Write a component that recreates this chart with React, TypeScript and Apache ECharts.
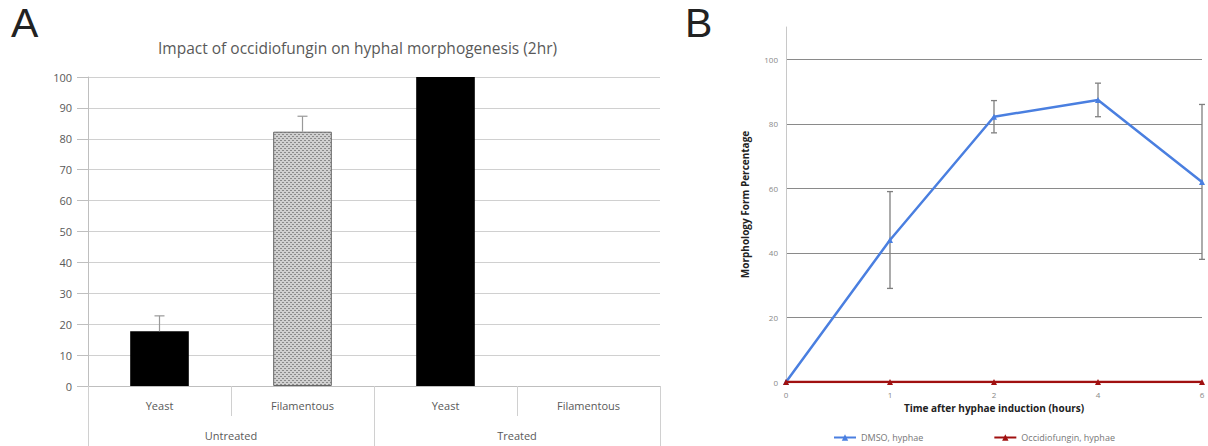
import React, { useEffect, useRef } from "react";
import * as echarts from "echarts";

const barCategories = ["Yeast", "Filamentous", "Yeast", "Filamentous"];
const groupLabels = ["Untreated", "Treated"];
const barValues = [17.7, 82.3, 100, 0];
const barUpperErrors = [5, 5, 0, 0];
const barYTicks = { min: 0, max: 100, interval: 10 };

const timeLabels = ["0", "1", "2", "4", "6"];
const dmsoValues = [0, 44, 82.2, 87.4, 62];
const dmsoErrors = [0, 15, 5, 5.2, 24];
const occValues = [0, 0, 0, 0, 0];

const FONT = "'Open Sans', 'Liberation Sans', sans-serif";

function makePattern(): HTMLCanvasElement {
  const c = document.createElement("canvas");
  c.width = 4;
  c.height = 4;
  const ctx = c.getContext("2d")!;
  ctx.fillStyle = "#d0d0d0";
  ctx.fillRect(0, 0, 4, 4);
  ctx.fillStyle = "#8a8a8a";
  ctx.fillRect(0, 0, 2, 1);
  ctx.fillRect(2, 2, 2, 1);
  return c;
}

export default function App() {
  const ref = useRef<HTMLDivElement>(null);
  useEffect(() => {
    const chart = echarts.init(ref.current!, null, { renderer: "svg" });
    const pattern = makePattern();
    const option: any = {
      animation: false,
      textStyle: { fontFamily: FONT },
      graphic: [
        { type: "text", left: 11, top: 2, style: { text: "A", fontSize: 41, fill: "#222", fontFamily: "'Liberation Sans', sans-serif" } },
        { type: "text", left: 685, top: 2, style: { text: "B", fontSize: 41, fill: "#222", fontFamily: "'Liberation Sans', sans-serif" } },
        { type: "text", left: 158, top: 40, style: { text: "Impact of occidiofungin on hyphal morphogenesis (2hr)", fontSize: 15.5, fill: "#595959", fontFamily: FONT } },
      ],
      grid: [
        { left: 88, right: 548, top: 77, bottom: 60, containLabel: false },
        { left: 786, right: 6, top: 27, bottom: 64, containLabel: false },
      ],
      legend: {
        left: 828,
        top: 428,
        itemGap: 70,
        itemWidth: 22,
        itemHeight: 8,
        textStyle: { fontSize: 9, color: "#777", fontFamily: FONT },
        data: ["DMSO, hyphae", "Occidiofungin, hyphae"],
      },
      xAxis: [
        {
          type: "category",
          gridIndex: 0,
          data: barCategories,
          axisLine: { show: true, lineStyle: { color: "#bfbfbf" } },
          axisTick: { show: true, length: 30, interval: 0, lineStyle: { color: "#d0d0d0" } },
          axisLabel: { margin: 14, fontSize: 11, color: "#595959", interval: 0 },
        },
        {
          type: "category",
          gridIndex: 0,
          position: "bottom",
          offset: 30,
          data: groupLabels,
          axisLine: { show: false },
          axisTick: { show: true, length: 30, interval: 0, lineStyle: { color: "#d0d0d0" } },
          axisLabel: { margin: 14, fontSize: 11, color: "#595959", interval: 0 },
        },
        {
          type: "category",
          gridIndex: 1,
          data: timeLabels,
          boundaryGap: false,
          axisLine: { show: true, lineStyle: { color: "#999" } },
          axisTick: { show: false },
          axisLabel: { margin: 8, fontSize: 8, color: "#888" },
          name: "Time after hyphae induction (hours)",
          nameLocation: "middle",
          nameGap: 21,
          nameTextStyle: { fontSize: 10, fontWeight: "bold", color: "#222", fontFamily: FONT },
        },
      ],
      yAxis: [
        {
          type: "value",
          gridIndex: 0,
          min: barYTicks.min,
          max: barYTicks.max,
          interval: barYTicks.interval,
          axisLine: { show: true, lineStyle: { color: "#bfbfbf" } },
          axisTick: { show: true, length: 11, lineStyle: { color: "#bfbfbf" } },
          axisLabel: { fontSize: 11, color: "#595959", margin: 16 },
          splitLine: { show: true, lineStyle: { color: "#d0d0d0" } },
        },
        {
          type: "value",
          gridIndex: 1,
          min: 0,
          max: 110,
          interval: 20,
          axisLine: { show: true, lineStyle: { color: "#c8c8c8" } },
          axisTick: { show: false },
          axisLabel: { fontSize: 8, color: "#888", margin: 8, showMaxLabel: false },
          splitLine: { show: true, showMinLine: false, showMaxLine: false, lineStyle: { color: "#8a8a8a" } },
          name: "Morphology Form Percentage",
          nameLocation: "middle",
          nameGap: 36,
          nameTextStyle: { fontSize: 10, fontWeight: "bold", color: "#222", fontFamily: FONT },
        },
      ],
      series: [
        {
          type: "bar",
          xAxisIndex: 0,
          yAxisIndex: 0,
          barWidth: "41%",
          data: barValues.map((v, i) =>
            i === 1
              ? { value: v, itemStyle: { color: { image: pattern, repeat: "repeat" }, borderColor: "#666", borderWidth: 1 } }
              : { value: v, itemStyle: { color: "#000" } }
          ),
        },
        {
          type: "custom",
          xAxisIndex: 0,
          yAxisIndex: 0,
          data: barValues.map((v, i) => [i, v, v + barUpperErrors[i]]),
          renderItem: (params: any, api: any) => {
            const i = api.value(0);
            const v = api.value(1);
            const t = api.value(2);
            if (t <= v) return null;
            const p0 = api.coord([i, v]);
            const p1 = api.coord([i, t]);
            const style = { stroke: "#999", lineWidth: 1.2 };
            return {
              type: "group",
              children: [
                { type: "line", shape: { x1: p0[0], y1: p0[1], x2: p1[0], y2: p1[1] }, style },
                { type: "line", shape: { x1: p1[0] - 5, y1: p1[1], x2: p1[0] + 5, y2: p1[1] }, style },
              ],
            };
          },
          z: 3,
        },
        {
          type: "custom",
          xAxisIndex: 2,
          yAxisIndex: 1,
          data: dmsoValues.map((v, i) => [i, v - dmsoErrors[i], v + dmsoErrors[i]]),
          renderItem: (params: any, api: any) => {
            const i = api.value(0);
            const lo = api.value(1);
            const hi = api.value(2);
            if (hi <= lo) return null;
            const p0 = api.coord([i, lo]);
            const p1 = api.coord([i, hi]);
            const style = { stroke: "#7f7f7f", lineWidth: 1.3 };
            return {
              type: "group",
              children: [
                { type: "line", shape: { x1: p0[0], y1: p0[1], x2: p1[0], y2: p1[1] }, style },
                { type: "line", shape: { x1: p0[0] - 3, y1: p0[1], x2: p0[0] + 3, y2: p0[1] }, style },
                { type: "line", shape: { x1: p1[0] - 3, y1: p1[1], x2: p1[0] + 3, y2: p1[1] }, style },
              ],
            };
          },
          z: 2,
        },
        {
          name: "DMSO, hyphae",
          type: "line",
          xAxisIndex: 2,
          yAxisIndex: 1,
          data: dmsoValues,
          symbol: "triangle",
          symbolSize: 6,
          lineStyle: { color: "#4a7fe0", width: 2.5 },
          itemStyle: { color: "#4a7fe0" },
          z: 3,
        },
        {
          name: "Occidiofungin, hyphae",
          type: "line",
          xAxisIndex: 2,
          yAxisIndex: 1,
          data: occValues,
          symbol: "triangle",
          symbolSize: 6,
          lineStyle: { color: "#a01010", width: 2.5 },
          itemStyle: { color: "#a01010" },
          z: 4,
        },
      ],
    };
    chart.setOption(option);
    return () => chart.dispose();
  }, []);
  return <div ref={ref} style={{ width: 1208, height: 446, position: "absolute", left: 0, top: 0, background: "#fff" }} />;
}
